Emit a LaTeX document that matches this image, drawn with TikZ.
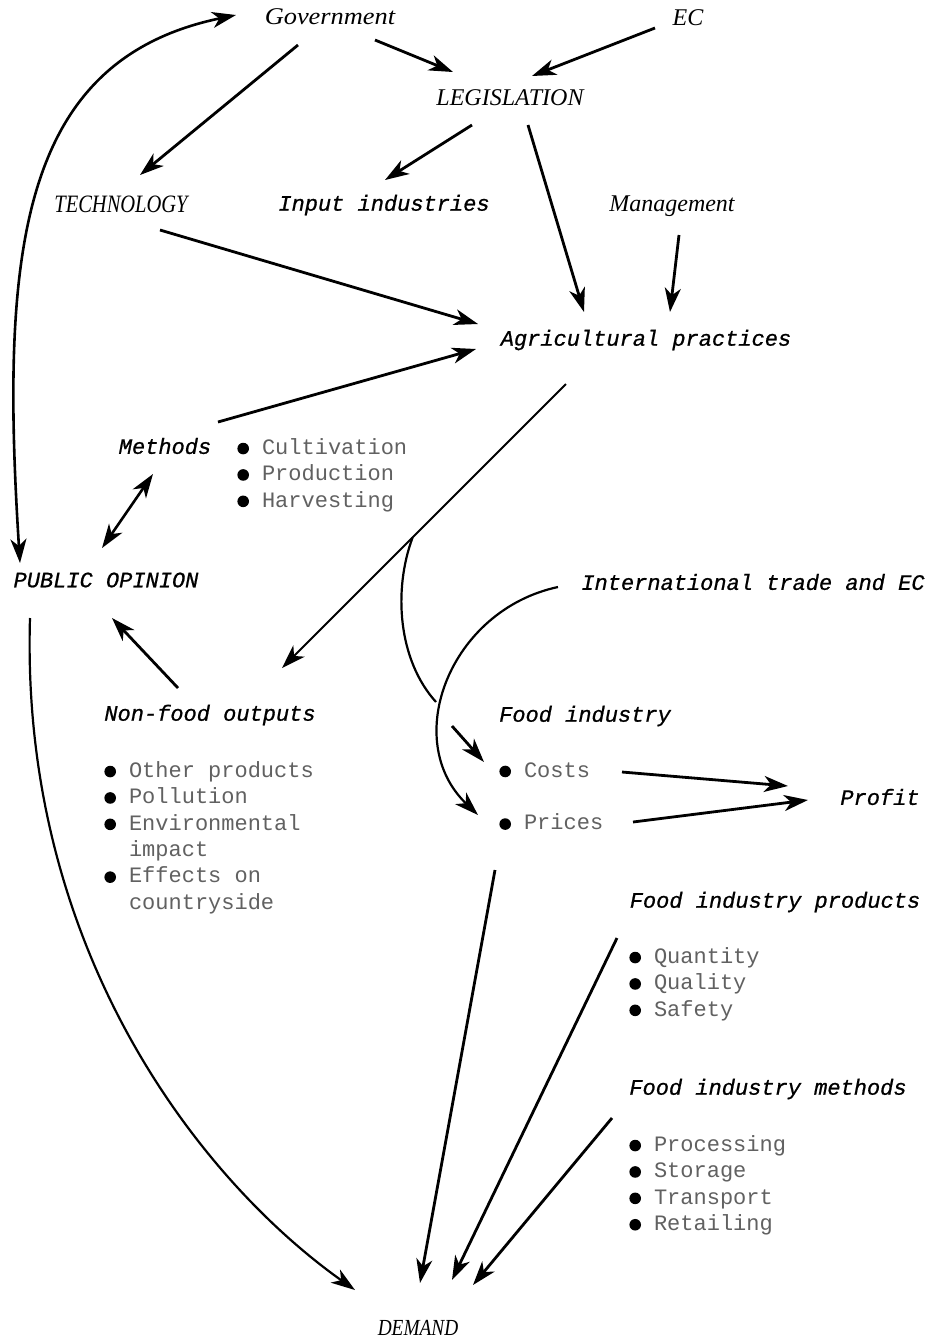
\documentclass[tikz,border=0pt]{standalone}
\usepackage{fontspec}
\setmainfont{Liberation Serif}
\newfontfamily\monof{Liberation Mono}
\newfontfamily\monoi{Liberation Mono}[ItalicFeatures={FakeBold=0.8}]
\usetikzlibrary{arrows.meta}
\newcommand\bul{\tikz[baseline=-2.9pt]\fill[black] (0,0) circle (2.9pt);\hspace{6.5pt}}
\newcommand\bulind{\hspace*{12.3pt}}
\begin{document}
\begin{tikzpicture}[x=0.5pt,y=-0.5pt,
  ser/.style={font=\fontsize{12}{14}\selectfont\itshape, inner sep=0},
  mon/.style={font=\monoi\itshape\fontsize{11}{13}\selectfont, inner sep=0},
  lst/.style={font=\monof\fontsize{11}{13.2}\selectfont, text=black!62, align=left, inner sep=0, anchor=north west},
  tip/.tip={Stealth[length=12pt,width=8pt,inset=3.5pt]},
  arr/.style={-tip, line width=1.4pt},
  darr/.style={tip-tip, line width=1.3pt},
  thinl/.style={line width=0.9pt}]
\fill[white] (0,0) rectangle (927,1341);
\useasboundingbox (0,0) rectangle (927,1341);

% nodes
\node[ser] (gov) at (330,17) {\scalebox{1.1}[1]{Government}};
\node[ser] (ec) at (688,18) {EC};
\node[ser] (leg) at (510,98) {LEGISLATION};
\node[ser, font=\fontsize{12.5}{14}\selectfont\itshape] (tech) at (121,204) {\scalebox{0.82}[1]{TECHNOLOGY}};
\node[mon] (inp) at (384,205) {Input industries};
\node[ser] (mgmt) at (672,206) {Management};
\node[mon] (agri) at (646,340) {Agricultural practices};
\node[mon] (meth) at (165,446) {Methods};
\node[lst] (methl) at (237,438) {\bul Cultivation\\\bul Production\\\bul Harvesting};
\node[mon] (pub) at (106,580) {PUBLIC OPINION};
\node[mon] (intl) at (753,582) {International trade and EC};
\node[mon] (nonf) at (210,715) {Non-food outputs};
\node[lst] (nonfl) at (104,761) {\bul Other products\\\bul Pollution\\\bul Environmental\\\bulind impact\\\bul Effects on\\\bulind countryside};
\node[mon] (food) at (585,716) {Food industry};
\node[lst, anchor=west] (costs) at (499,770) {\bul Costs};
\node[lst, anchor=west] (prices) at (499,822) {\bul Prices};
\node[mon] (profit) at (880,797) {Profit};
\node[mon] (fip) at (775,902) {Food industry products};
\node[lst] (fipl) at (629,947) {\bul Quantity\\\bul Quality\\\bul Safety};
\node[mon] (fim) at (768,1089) {Food industry methods};
\node[lst] (fiml) at (629,1135) {\bul Processing\\\bul Storage\\\bul Transport\\\bul Retailing};
\node[ser, font=\fontsize{11.5}{13}\selectfont\itshape] (dem) at (418,1328) {\scalebox{0.84}[1]{DEMAND}};

% connectors
\draw[darr] ([shift={(-86,-17)}]pub.center) .. controls (0,250) and (20,60) .. ([shift={(-94,-2)}]gov.center);
\draw[arr] ([shift={(-32,28)}]gov.center) -- ([shift={(19,-29)}]tech.center);
\draw[arr] ([shift={(45,23)}]gov.center) -- ([shift={(-57,-26)}]leg.center);
\draw[arr] ([shift={(-33,10)}]ec.center) -- ([shift={(22,-22)}]leg.center);
\draw[arr] ([shift={(-38,27)}]leg.center) -- ([shift={(1,-25)}]inp.center);
\draw[arr] ([shift={(18,27)}]leg.center) -- ([shift={(-62,-28)}]agri.center);
\draw[arr] ([shift={(7,29)}]mgmt.center) -- ([shift={(24,-28)}]agri.center);
\draw[arr] ([shift={(39,26)}]tech.center) -- ([shift={(-168,-16)}]agri.center);
\draw[arr] ([shift={(53,-24)}]meth.center) -- ([shift={(-170,9)}]agri.center);
\draw[darr] ([shift={(-12,28)}]meth.center) -- ([shift={(-4,-32)}]pub.center);
\draw[arr, thinl] ([shift={(-80,44)}]agri.center) -- coordinate[pos=0.54] (br) ([shift={(72,-47)}]nonf.center);
\draw[arr] ([shift={(-32,-27)}]nonf.center) -- ([shift={(6,38)}]pub.center);
\draw[arr, line width=1.1pt] ([shift={(-76,38)}]pub.center) .. controls (20,950) and (200,1180) .. ([shift={(-63,-38)}]dem.center);
\coordinate (brend) at (436,702);
\coordinate (br2) at (452,726);
\draw[line width=1.1pt] (br) .. controls (393,590) and (398,660) .. (brend);
\draw[arr] (br2) -- ([shift={(-15,-8)}]costs.west);
\draw[arr, line width=1.1pt] ([shift={(-195,5)}]intl.center) .. controls (450,610) and (400,740) .. ([shift={(-21,-7)}]prices.west);
\draw[arr] ([shift={(123,2)}]costs.west) -- ([shift={(-92,-11)}]profit.center);
\draw[arr] ([shift={(134,0)}]prices.west) -- ([shift={(-72,3)}]profit.center);
\draw[arr] ([shift={(-4,48)}]prices.west) -- ([shift={(2,-45)}]dem.center);
\draw[arr] ([shift={(-158,36)}]fip.center) -- ([shift={(34,-48)}]dem.center);
\draw[arr] ([shift={(-156,29)}]fim.center) -- ([shift={(55,-43)}]dem.center);
\end{tikzpicture}
\end{document}
